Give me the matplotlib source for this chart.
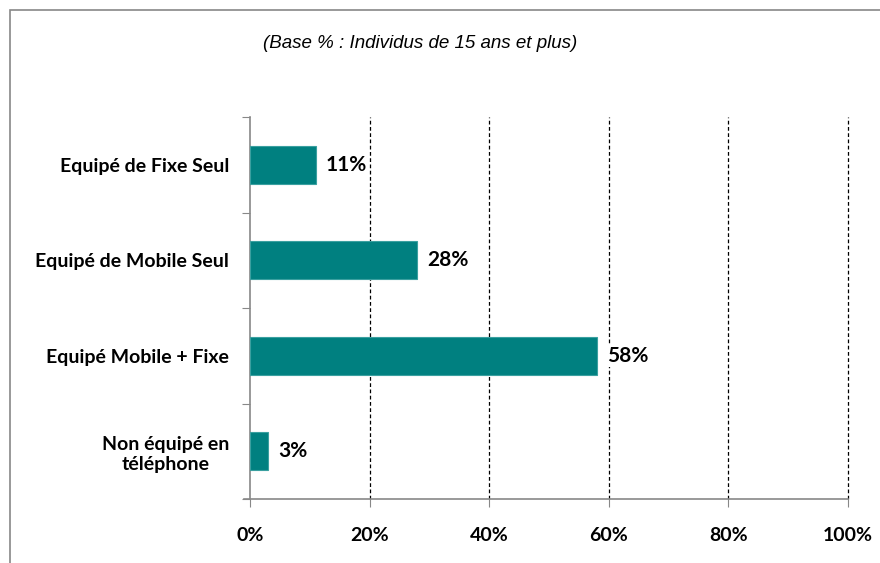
import matplotlib.pyplot as plt
from matplotlib.patches import Rectangle
import numpy as np

# data, top to bottom as in the chart
categories = ['Equipé de Fixe Seul', 'Equipé de Mobile Seul', 'Equipé Mobile + Fixe', 'Non équipé en\ntéléphone']
values = [11, 28, 58, 3]
xticks = [0, 20, 40, 60, 80, 100]
xtick_labels = ['0%', '20%', '40%', '60%', '80%', '100%']
subtitle = '(Base % : Individus de 15 ans et plus)'

teal = '#008080'
grey = '#888888'
lab_font = 'Lato'

fig = plt.figure(figsize=(8.8, 5.63), dpi=100)
ax = fig.add_axes([250 / 880, 1 - 499 / 563, 598 / 880, (499 - 117) / 563])

# outer frame (top and left visible)
fig.patches.append(Rectangle((10 / 880, -0.1), 1.1, 1 - 10 / 563 + 0.1, transform=fig.transFigure,
                             fill=False, edgecolor=grey, linewidth=1.2))

n = len(categories)
ypos = np.arange(n)[::-1] + 0.5
ax.barh(ypos, values, height=0.4, color=teal, edgecolor='#3aa0a0', linewidth=0.8, zorder=3)

for y, v in zip(ypos, values):
    ax.text(v + 1.7, y, f'{v}%', va='center', ha='left', fontsize=15, fontweight='bold',
            family=lab_font, zorder=4,
            bbox=dict(facecolor='white', edgecolor='none', pad=1))

ax.set_xlim(0, 100)
ax.set_ylim(0, n)
ax.set_xticks(xticks)
ax.set_xticklabels(xtick_labels, fontsize=14, fontweight='bold', family=lab_font)
for v in xticks[1:]:
    ax.axvline(v, color='black', linestyle=(0, (3, 2)), linewidth=0.9, zorder=1, clip_on=False)

# category ticks at band edges, labels centered in bands
ax.set_yticks(np.arange(n + 1))
ax.set_yticklabels([])
ax.set_yticks(ypos, minor=True)
ax.set_yticklabels(categories, minor=True, fontsize=14, fontweight='bold', family=lab_font,
                   multialignment='center', linespacing=1.25)
ax.tick_params(axis='y', which='minor', length=0, pad=15)
ax.tick_params(axis='y', which='major', length=6, color=grey)
ax.tick_params(axis='x', length=6, color=grey, pad=14)

for s in ['top', 'right']:
    ax.spines[s].set_visible(False)
for s in ['left', 'bottom']:
    ax.spines[s].set_color(grey)
    ax.spines[s].set_linewidth(1.2)
ax.spines['bottom'].set_bounds(-1, 100)

fig.text(420 / 880, 1 - 43 / 563, subtitle, ha='center', va='center', fontsize=13.5,
         style='italic', family='Liberation Sans')

fig.savefig('out.png', dpi=100)
